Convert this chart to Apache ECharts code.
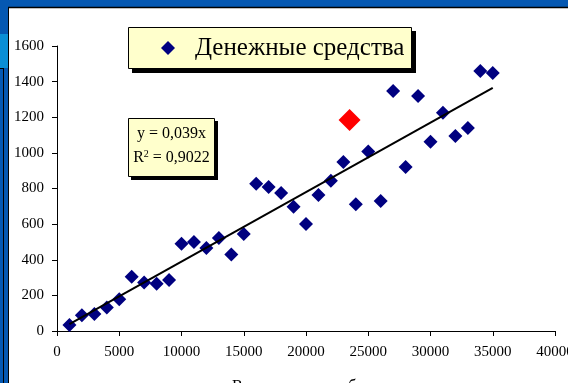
<!DOCTYPE html>
<html>
<head>
<meta charset="utf-8">
<script src="https://cdn.jsdelivr.net/npm/echarts@6/dist/echarts.min.js"></script>
<style>
html,body{margin:0;padding:0;background:#fff;}
#chart{width:568px;height:383px;}
</style>
</head>
<body>
<div id="chart"></div>
<script>
// Data
const seriesName = 'Денежные средства';
const revenue = [1000,2000,3000,4000,5000,6000,7000,8000,9000,10000,11000,12000,13000,14000,15000,16000,17000,18000,19000,20000,21000,22000,23000,24000,25000,26000,27000,28000,29000,30000,31000,32000,33000,34000,35000];
const cash = [34,88,95,132,178,305,272,265,287,490,500,466,522,430,545,826,809,775,697,601,764,843,949,712,1008,730,1348,921,1320,1062,1225,1095,1140,1460,1449];
const highlightX = [23500];
const highlightY = [1185];
const trendX = [1000, 35000];
const trendY = [39, 1365];
const xTicks = {min: 0, max: 40000, interval: 5000};
const yTicks = {min: 0, max: 1600, interval: 200};
const equationLine1 = 'y = 0,039x';
const equationLine2 = 'R{sup|2} = 0,9022';
const xAxisTitle = 'Выручка, тыс. руб.';

const serif = '"Liberation Serif","Times New Roman",serif';
const chart = echarts.init(document.getElementById('chart'), null, {renderer: 'canvas'});
chart.setOption({
  backgroundColor: '#ffffff',
  animation: false,
  grid: {left: 57, right: 13, top: 46, bottom: 52, containLabel: false, outerBoundsMode: 'none'},
  xAxis: {
    type: 'value', min: xTicks.min, max: xTicks.max, interval: xTicks.interval,
    axisLine: {show: true, lineStyle: {color: '#000', width: 1}},
    axisTick: {show: true, length: 5, lineStyle: {color: '#000'}},
    axisLabel: {color: '#000', fontFamily: serif, fontSize: 15, margin: 14, formatter: v => String(v), hideOverlap: false},
    splitLine: {show: false}
  },
  yAxis: {
    type: 'value', min: yTicks.min, max: yTicks.max, interval: yTicks.interval,
    axisLine: {show: true, lineStyle: {color: '#000', width: 1}},
    axisTick: {show: true, length: 5, lineStyle: {color: '#000'}},
    axisLabel: {color: '#000', fontFamily: serif, fontSize: 15, margin: 13, formatter: v => String(v)},
    splitLine: {show: false}
  },
  legend: {
    data: [{name: seriesName, icon: 'diamond'}],
    left: 128, top: 27,
    itemWidth: 14, itemHeight: 14,
    padding: [8, 12, 8, 33],
    textStyle: {color: '#000', fontFamily: serif, fontSize: 25, lineHeight: 26, padding: [0, 0, 0, 15]},
    selectedMode: false
  },
  graphic: [
    {type: 'rect', shape: {x: 0, y: 0, width: 568, height: 7}, style: {fill: '#0558b2'}, z: 100},
    {type: 'rect', shape: {x: 0, y: 0, width: 8, height: 383}, style: {fill: '#0558b2'}, z: 100},
    {type: 'rect', shape: {x: 0, y: 34, width: 8, height: 34}, style: {fill: '#0a8fd6'}, z: 101},
    {type: 'line', shape: {x1: 8, y1: 7.5, x2: 568, y2: 7.5}, style: {stroke: '#000', lineWidth: 1.5}, z: 102},
    {type: 'line', shape: {x1: 8.5, y1: 7, x2: 8.5, y2: 383}, style: {stroke: '#000', lineWidth: 1}, z: 102},
    {type: 'line', shape: {x1: 0, y1: 68.5, x2: 3.5, y2: 68.5}, style: {stroke: '#000', lineWidth: 1}, z: 102},
    {type: 'line', shape: {x1: 3.5, y1: 68, x2: 3.5, y2: 383}, style: {stroke: '#000', lineWidth: 1}, z: 102},
    // legend box with shadow
    {type: 'rect', shape: {x: 132, y: 31, width: 284, height: 42}, style: {fill: '#000'}, z: -10},
    {type: 'rect', shape: {x: 128.5, y: 27.5, width: 283, height: 41}, style: {fill: '#ffffcc', stroke: '#000', lineWidth: 1}, z: -9},
    // equation box with shadow
    {type: 'rect', shape: {x: 131, y: 121, width: 87, height: 59}, style: {fill: '#000'}, z: 50},
    {type: 'rect', shape: {x: 128.5, y: 118.5, width: 86, height: 58}, style: {fill: '#ffffcc', stroke: '#000', lineWidth: 1}, z: 51},
    {type: 'text', x: 171.5, y: 126, style: {text: equationLine1, fill: '#000', font: '16px ' + serif, align: 'center', verticalAlign: 'top'}, z: 52},
    {type: 'text', x: 171.5, y: 149, style: {text: equationLine2, fill: '#000', font: '16px ' + serif, align: 'center', verticalAlign: 'top',
      rich: {sup: {fontSize: 10, fontFamily: serif, verticalAlign: 'top', padding: [0, 0, 8, 0], fill: '#000'}}}, z: 52},
    {type: 'text', x: 232, y: 379, style: {text: xAxisTitle, fill: '#000', font: '16px ' + serif, verticalAlign: 'top'}, z: 52}
  ],
  series: [
    {
      name: seriesName, type: 'scatter', symbol: 'diamond', symbolSize: 14,
      itemStyle: {color: '#000080', opacity: 1},
      data: revenue.map((v, i) => [v, cash[i]]), z: 3
    },
    {
      name: 'trend', type: 'line', symbol: 'none', silent: true,
      lineStyle: {color: '#000', width: 2},
      data: trendX.map((v, i) => [v, trendY[i]]), z: 4
    },
    {
      name: 'highlight', type: 'scatter', symbol: 'diamond', symbolSize: 22,
      itemStyle: {color: '#ff0000', opacity: 1},
      data: highlightX.map((v, i) => [v, highlightY[i]]), z: 5
    }
  ]
});
</script>
</body>
</html>
